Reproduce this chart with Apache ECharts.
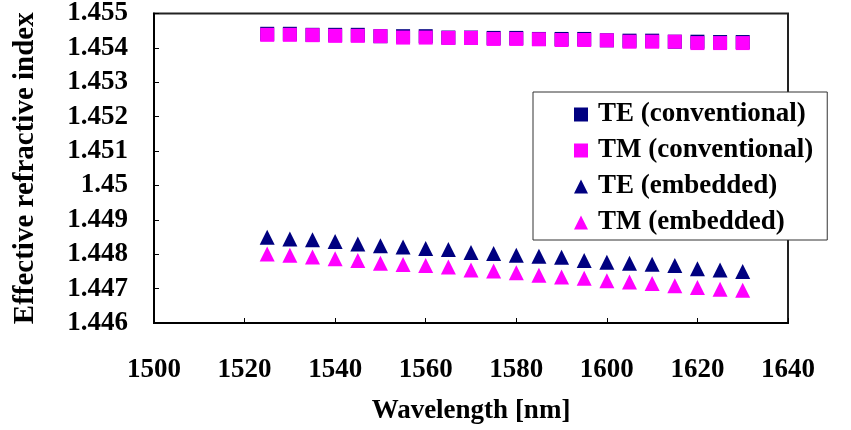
<!DOCTYPE html>
<html>
<head>
<meta charset="utf-8">
<script src="https://cdn.jsdelivr.net/npm/echarts@6/dist/echarts.min.js"></script>
<style>html,body{margin:0;padding:0;background:#fff;}#c{width:851px;height:430px;}</style>
</head>
<body>
<div id="c"></div>
<script>
const wavelength = [1525,1530,1535,1540,1545,1550,1555,1560,1565,1570,1575,1580,1585,1590,1595,1600,1605,1610,1615,1620,1625,1630];
const teConventional = [1.45441,1.45441,1.45438,1.45438,1.45438,1.45434,1.45434,1.45434,1.45430,1.45430,1.45429,1.45429,1.45426,1.45426,1.45426,1.45422,1.45421,1.45421,1.45418,1.45418,1.45417,1.45417];
const tmConventional = [1.45438,1.45438,1.45437,1.45435,1.45435,1.45434,1.45430,1.45430,1.45429,1.45429,1.45426,1.45426,1.45425,1.45423,1.45423,1.45422,1.45418,1.45418,1.45418,1.45414,1.45414,1.45414];
const teEmbedded = [1.44849,1.44844,1.44842,1.44837,1.44830,1.44825,1.44821,1.44817,1.44814,1.44805,1.44802,1.44797,1.44794,1.44791,1.44782,1.44777,1.44774,1.44771,1.44767,1.44758,1.44754,1.44750];
const tmEmbedded = [1.44801,1.44797,1.44792,1.44787,1.44782,1.44774,1.44770,1.44767,1.44763,1.44754,1.44751,1.44746,1.44739,1.44734,1.44730,1.44723,1.44719,1.44715,1.44708,1.44703,1.44698,1.44695];
const yTickLabels = ['1.446','1.447','1.448','1.449','1.45','1.451','1.452','1.453','1.454','1.455'];
const xTickLabels = ['1500','1520','1540','1560','1580','1600','1620','1640'];
const seriesNames = ['TE (conventional)','TM (conventional)','TE (embedded)','TM (embedded)'];

const FONT = 'Liberation Serif';
const NAVY = '#000080', MAG = '#FF00FF';
const pairs = arr => wavelength.map((w,i)=>[w,arr[i]]);

const chart = echarts.init(document.getElementById('c'), null, {renderer:'canvas'});
chart.setOption({
  animation:false,
  backgroundColor:'#fff',
  grid:{left:154,right:63,top:11,bottom:105,show:true,borderColor:'#222',borderWidth:2,backgroundColor:'transparent'},
  xAxis:{
    type:'value',min:1500,max:1640,interval:20,
    name:'Wavelength [nm]',nameLocation:'middle',nameGap:75,
    nameTextStyle:{fontFamily:FONT,fontWeight:'bold',fontSize:27,color:'#000'},
    axisLine:{show:true,lineStyle:{color:'#000',width:2}},
    axisTick:{show:true,inside:true,length:5,lineStyle:{color:'#000',width:1}},
    splitLine:{show:false},
    axisLabel:{margin:34,fontFamily:FONT,fontWeight:'bold',fontSize:27,color:'#000',
      formatter:v=>{const i=Math.round((v-1500)/20);return xTickLabels[i]!==undefined?xTickLabels[i]:'';}}
  },
  yAxis:{
    type:'value',min:1.446,max:1.455,interval:0.001,
    name:'Effective refractive index',nameLocation:'middle',nameGap:114,nameRotate:90,
    nameTextStyle:{fontFamily:FONT,fontWeight:'bold',fontSize:29,color:'#000'},
    axisLine:{show:true,lineStyle:{color:'#000',width:2}},
    axisTick:{show:true,inside:true,length:5,lineStyle:{color:'#000',width:1}},
    splitLine:{show:false},
    axisLabel:{margin:26,fontFamily:FONT,fontWeight:'bold',fontSize:27,color:'#000',
      formatter:v=>{const i=Math.round((v-1.446)/0.001);return yTickLabels[i]!==undefined?yTickLabels[i]:'';}}
  },
  legend:{
    orient:'vertical',left:533,top:92,
    backgroundColor:'#fff',borderColor:'#333',borderWidth:1,
    padding:[9,14,4,41],itemGap:9,itemWidth:14,itemHeight:14,
    itemStyle:{opacity:1},
    textStyle:{fontFamily:FONT,fontWeight:'bold',fontSize:27,color:'#000',padding:[0,0,0,5],lineHeight:27},
    data:[
      {name:seriesNames[0],icon:'rect'},
      {name:seriesNames[1],icon:'rect'},
      {name:seriesNames[2],icon:'triangle'},
      {name:seriesNames[3],icon:'triangle'}
    ]
  },
  series:[
    {name:seriesNames[0],type:'scatter',symbol:'rect',symbolSize:14,itemStyle:{color:NAVY,opacity:1},data:pairs(teConventional),z:2},
    {name:seriesNames[1],type:'scatter',symbol:'rect',symbolSize:14,itemStyle:{color:MAG,opacity:1},data:pairs(tmConventional),z:3},
    {name:seriesNames[2],type:'scatter',symbol:'triangle',symbolSize:15,itemStyle:{color:NAVY,opacity:1},data:pairs(teEmbedded),z:2},
    {name:seriesNames[3],type:'scatter',symbol:'triangle',symbolSize:15,itemStyle:{color:MAG,opacity:1},data:pairs(tmEmbedded),z:3}
  ]
});
</script>
</body>
</html>
